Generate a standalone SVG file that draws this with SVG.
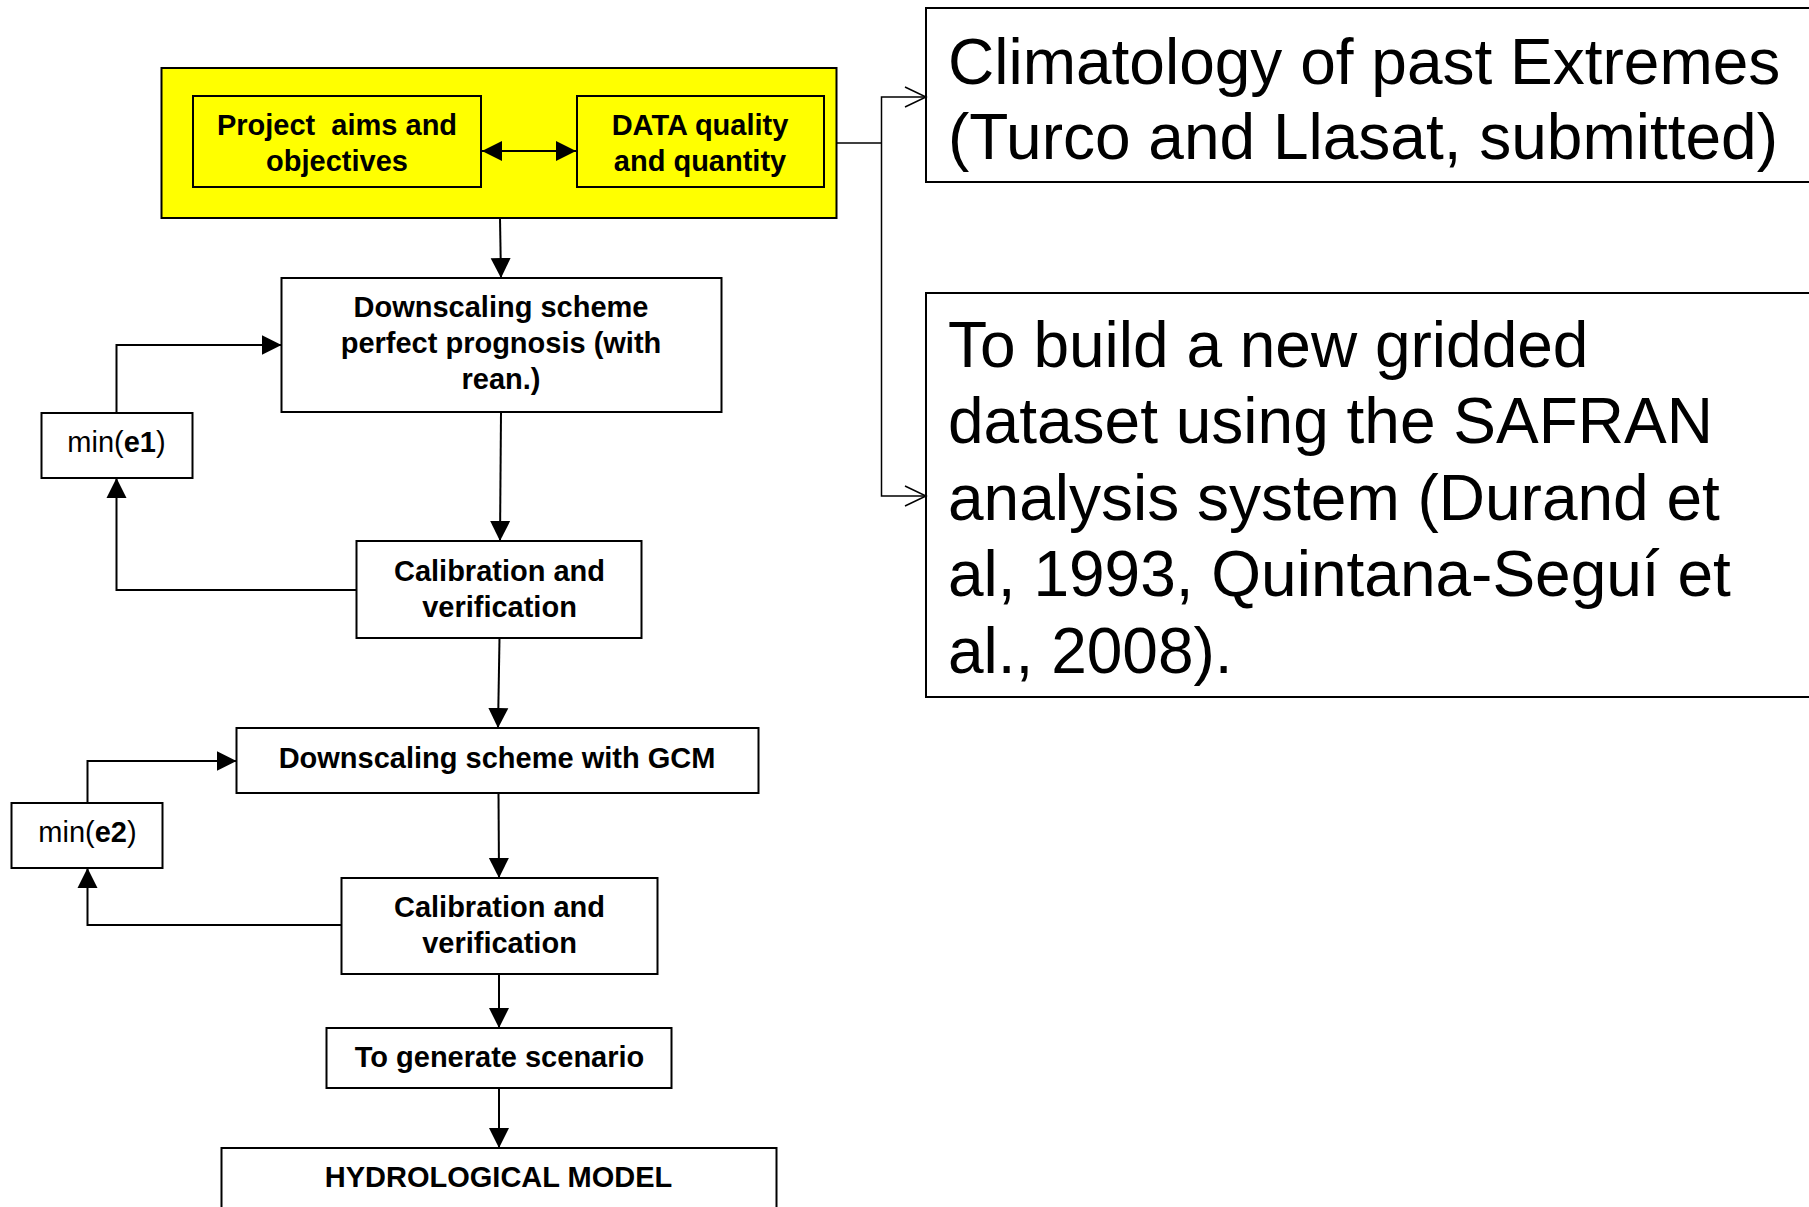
<svg xmlns="http://www.w3.org/2000/svg" width="1809" height="1207" viewBox="0 0 1809 1207">
<style>
.box{fill:#fff;stroke:#000;stroke-width:2}
.ybox{fill:#ffff00;stroke:#000;stroke-width:2}
.bt{font-family:"Liberation Sans",Arial,sans-serif;font-weight:bold;font-size:29px;text-anchor:middle;fill:#000}
.rt{font-family:"Liberation Sans",Arial,sans-serif;font-size:29px;text-anchor:middle;fill:#000}
.big{font-family:"Liberation Sans",Arial,sans-serif;font-size:64px;fill:#000}
.con{fill:none;stroke:#000;stroke-width:2}
.thin{fill:none;stroke:#000;stroke-width:1.5}
</style>
<defs>
<marker id="ah" markerUnits="userSpaceOnUse" markerWidth="22" markerHeight="22" viewBox="0 0 22 22" refX="20" refY="11" orient="auto-start-reverse">
<path d="M0,1 L20,11 L0,21 Z" fill="#000"/>
</marker>
<marker id="oh" markerUnits="userSpaceOnUse" markerWidth="24" markerHeight="24" viewBox="0 0 24 24" refX="22" refY="12" orient="auto">
<path d="M1,2 L22,12 L1,22" fill="none" stroke="#000" stroke-width="1.5"/>
</marker>
</defs>
<rect width="1809" height="1207" fill="#fff"/>

<g id="n-top">
<rect class="ybox" x="161.5" y="68" width="675" height="150"/>
</g>
<g id="n-aims">
<rect class="ybox" x="193" y="96" width="288" height="91"/>
<text class="bt" x="337" y="135" xml:space="preserve">Project  aims and</text>
<text class="bt" x="337" y="171">objectives</text>
</g>
<g id="n-data">
<rect class="ybox" x="577" y="96" width="247" height="91"/>
<text class="bt" x="700" y="135">DATA quality</text>
<text class="bt" x="700" y="171">and quantity</text>
</g>
<g id="n-clim">
<rect class="box" x="926" y="8" width="900" height="174" stroke-width="1.5"/>
<text class="big" x="948" y="84">Climatology of past Extremes</text>
<text class="big" x="948" y="159">(Turco and Llasat, submitted)</text>
</g>
<g id="n-safran">
<rect class="box" x="926" y="293" width="900" height="404" stroke-width="1.5"/>
<text class="big" x="948" y="367">To build a new gridded</text>
<text class="big" x="948" y="443">dataset using the SAFRAN</text>
<text class="big" x="948" y="520">analysis system (Durand et</text>
<text class="big" x="948" y="596">al, 1993, Quintana-Seguí et</text>
<text class="big" x="948" y="673">al., 2008).</text>
</g>
<g id="n-pp">
<rect class="box" x="281.5" y="278" width="440" height="134"/>
<text class="bt" x="501" y="317">Downscaling scheme</text>
<text class="bt" x="501" y="353">perfect prognosis (with</text>
<text class="bt" x="501" y="389">rean.)</text>
</g>
<g id="n-e1">
<rect class="box" x="41.5" y="413" width="151" height="65"/>
<text class="rt" x="116.5" y="452">min(<tspan font-weight="bold">e1</tspan>)</text>
</g>
<g id="n-cal1">
<rect class="box" x="356.5" y="541" width="285" height="97"/>
<text class="bt" x="499.5" y="581">Calibration and</text>
<text class="bt" x="499.5" y="617">verification</text>
</g>
<g id="n-gcm">
<rect class="box" x="236.5" y="728" width="522" height="65"/>
<text class="bt" x="497" y="768">Downscaling scheme with GCM</text>
</g>
<g id="n-e2">
<rect class="box" x="11.5" y="803" width="151" height="65"/>
<text class="rt" x="87.5" y="842">min(<tspan font-weight="bold">e2</tspan>)</text>
</g>
<g id="n-cal2">
<rect class="box" x="341.5" y="878" width="316" height="96"/>
<text class="bt" x="499.5" y="917">Calibration and</text>
<text class="bt" x="499.5" y="953">verification</text>
</g>
<g id="n-scen">
<rect class="box" x="326.5" y="1028" width="345" height="60"/>
<text class="bt" x="499.5" y="1067">To generate scenario</text>
</g>
<g id="n-hydro">
<rect class="box" x="221.5" y="1148" width="555" height="80"/>
<text class="bt" x="498.5" y="1187">HYDROLOGICAL MODEL</text>
</g>

<g id="connectors">
<line class="con" x1="482" y1="151" x2="576" y2="151" marker-start="url(#ah)" marker-end="url(#ah)"/>
<line class="con" x1="500" y1="218" x2="501" y2="278" marker-end="url(#ah)"/>
<line class="con" x1="501" y1="412" x2="500" y2="541" marker-end="url(#ah)"/>
<line class="con" x1="499.5" y1="638" x2="498" y2="728" marker-end="url(#ah)"/>
<line class="con" x1="498.5" y1="793" x2="499" y2="878" marker-end="url(#ah)"/>
<line class="con" x1="499" y1="974" x2="499" y2="1028" marker-end="url(#ah)"/>
<line class="con" x1="499" y1="1088" x2="499" y2="1148" marker-end="url(#ah)"/>
<polyline class="con" points="356.5,590 116.5,590 116.5,478" marker-end="url(#ah)"/>
<polyline class="con" points="116.5,413 116.5,345 281.5,345" marker-end="url(#ah)"/>
<polyline class="con" points="341.5,925 87.5,925 87.5,868" marker-end="url(#ah)"/>
<polyline class="con" points="87.5,803 87.5,761 236.5,761" marker-end="url(#ah)"/>
<polyline class="thin" points="836.5,143 881.5,143"/>
<polyline class="thin" points="881.5,143 881.5,97 926,97" marker-end="url(#oh)"/>
<polyline class="thin" points="881.5,143 881.5,496 926,496" marker-end="url(#oh)"/>
</g>
</svg>
